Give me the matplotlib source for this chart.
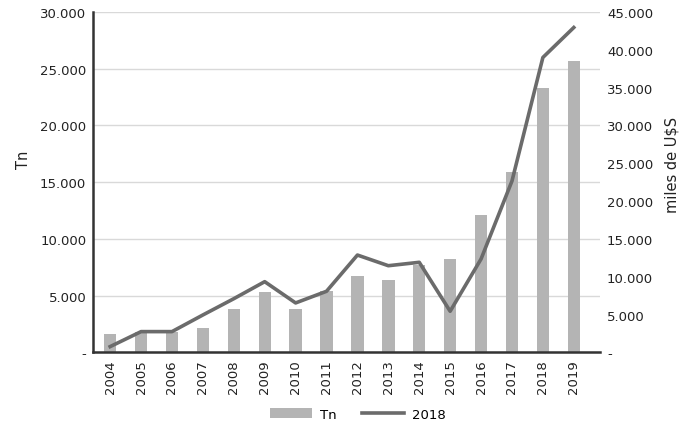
import numpy as np
import matplotlib.pyplot as plt
from matplotlib.ticker import FuncFormatter

years = ['2004', '2005', '2006', '2007', '2008', '2009', '2010', '2011',
         '2012', '2013', '2014', '2015', '2016', '2017', '2018', '2019']
tn = [1630, 1800, 1800, 2160, 3830, 5300, 3830, 5440,
      6760, 6380, 7700, 8230, 12080, 15920, 23260, 25660]
usd = [770, 2750, 2750, 4950, 7100, 9350, 6540, 8080,
       12870, 11460, 11910, 5440, 12350, 22650, 38980, 42940]

bar_color = '#b4b4b4'
line_color = '#6b6b6b'
txt = '#222222'


def miles(v, pos):
    if v == 0:
        return '-'
    return f'{int(v):,}'.replace(',', '.')


fig = plt.figure(figsize=(6.85, 4.31), dpi=100)
ax = fig.add_axes([0.136, 0.180, 0.740, 0.790])
x = np.arange(len(years))

ax.bar(x, tn, width=0.4, color=bar_color, label='Tn', zorder=2)
ax.set_ylim(0, 30000)
ax.set_yticks(np.arange(0, 30001, 5000))
ax.yaxis.set_major_formatter(FuncFormatter(miles))
ax.grid(axis='y', color='#d9d9d9', lw=1, zorder=0)
ax.set_axisbelow(True)
ax.set_xlim(-0.55, 15.85)
ax.set_xticks(x)
ax.set_xticklabels(years, rotation=90)
ax.tick_params(length=0, labelsize=9.5, colors=txt, pad=5)
for s in ['top', 'right']:
    ax.spines[s].set_visible(False)
for s in ['left', 'bottom']:
    ax.spines[s].set_linewidth(1.8)
    ax.spines[s].set_color('#333333')
ax.set_ylabel('Tn', fontsize=10.5, color=txt)
ax.yaxis.set_label_coords(-0.123, 0.568)

ax2 = ax.twinx()
ax2.plot(x, usd, color=line_color, lw=2.6, label='2018', zorder=3)
ax2.set_ylim(0, 45000)
ax2.set_yticks(np.arange(0, 45001, 5000))
ax2.yaxis.set_major_formatter(FuncFormatter(miles))
ax2.tick_params(length=0, labelsize=9.5, colors=txt, pad=5)
for s in ['top', 'right', 'left', 'bottom']:
    ax2.spines[s].set_visible(False)
ax2.set_ylabel('miles de U$S', fontsize=10.5, color=txt)
ax2.yaxis.set_label_coords(1.127, 0.553)

h1, l1 = ax.get_legend_handles_labels()
h2, l2 = ax2.get_legend_handles_labels()
fig.legend(h1 + h2, l1 + l2, loc='center', bbox_to_anchor=(0.522, 0.037),
           ncol=2, frameon=False, fontsize=9.5, handlelength=3.2,
           columnspacing=1.9, handletextpad=0.6)

fig.savefig('out.png', dpi=100)
